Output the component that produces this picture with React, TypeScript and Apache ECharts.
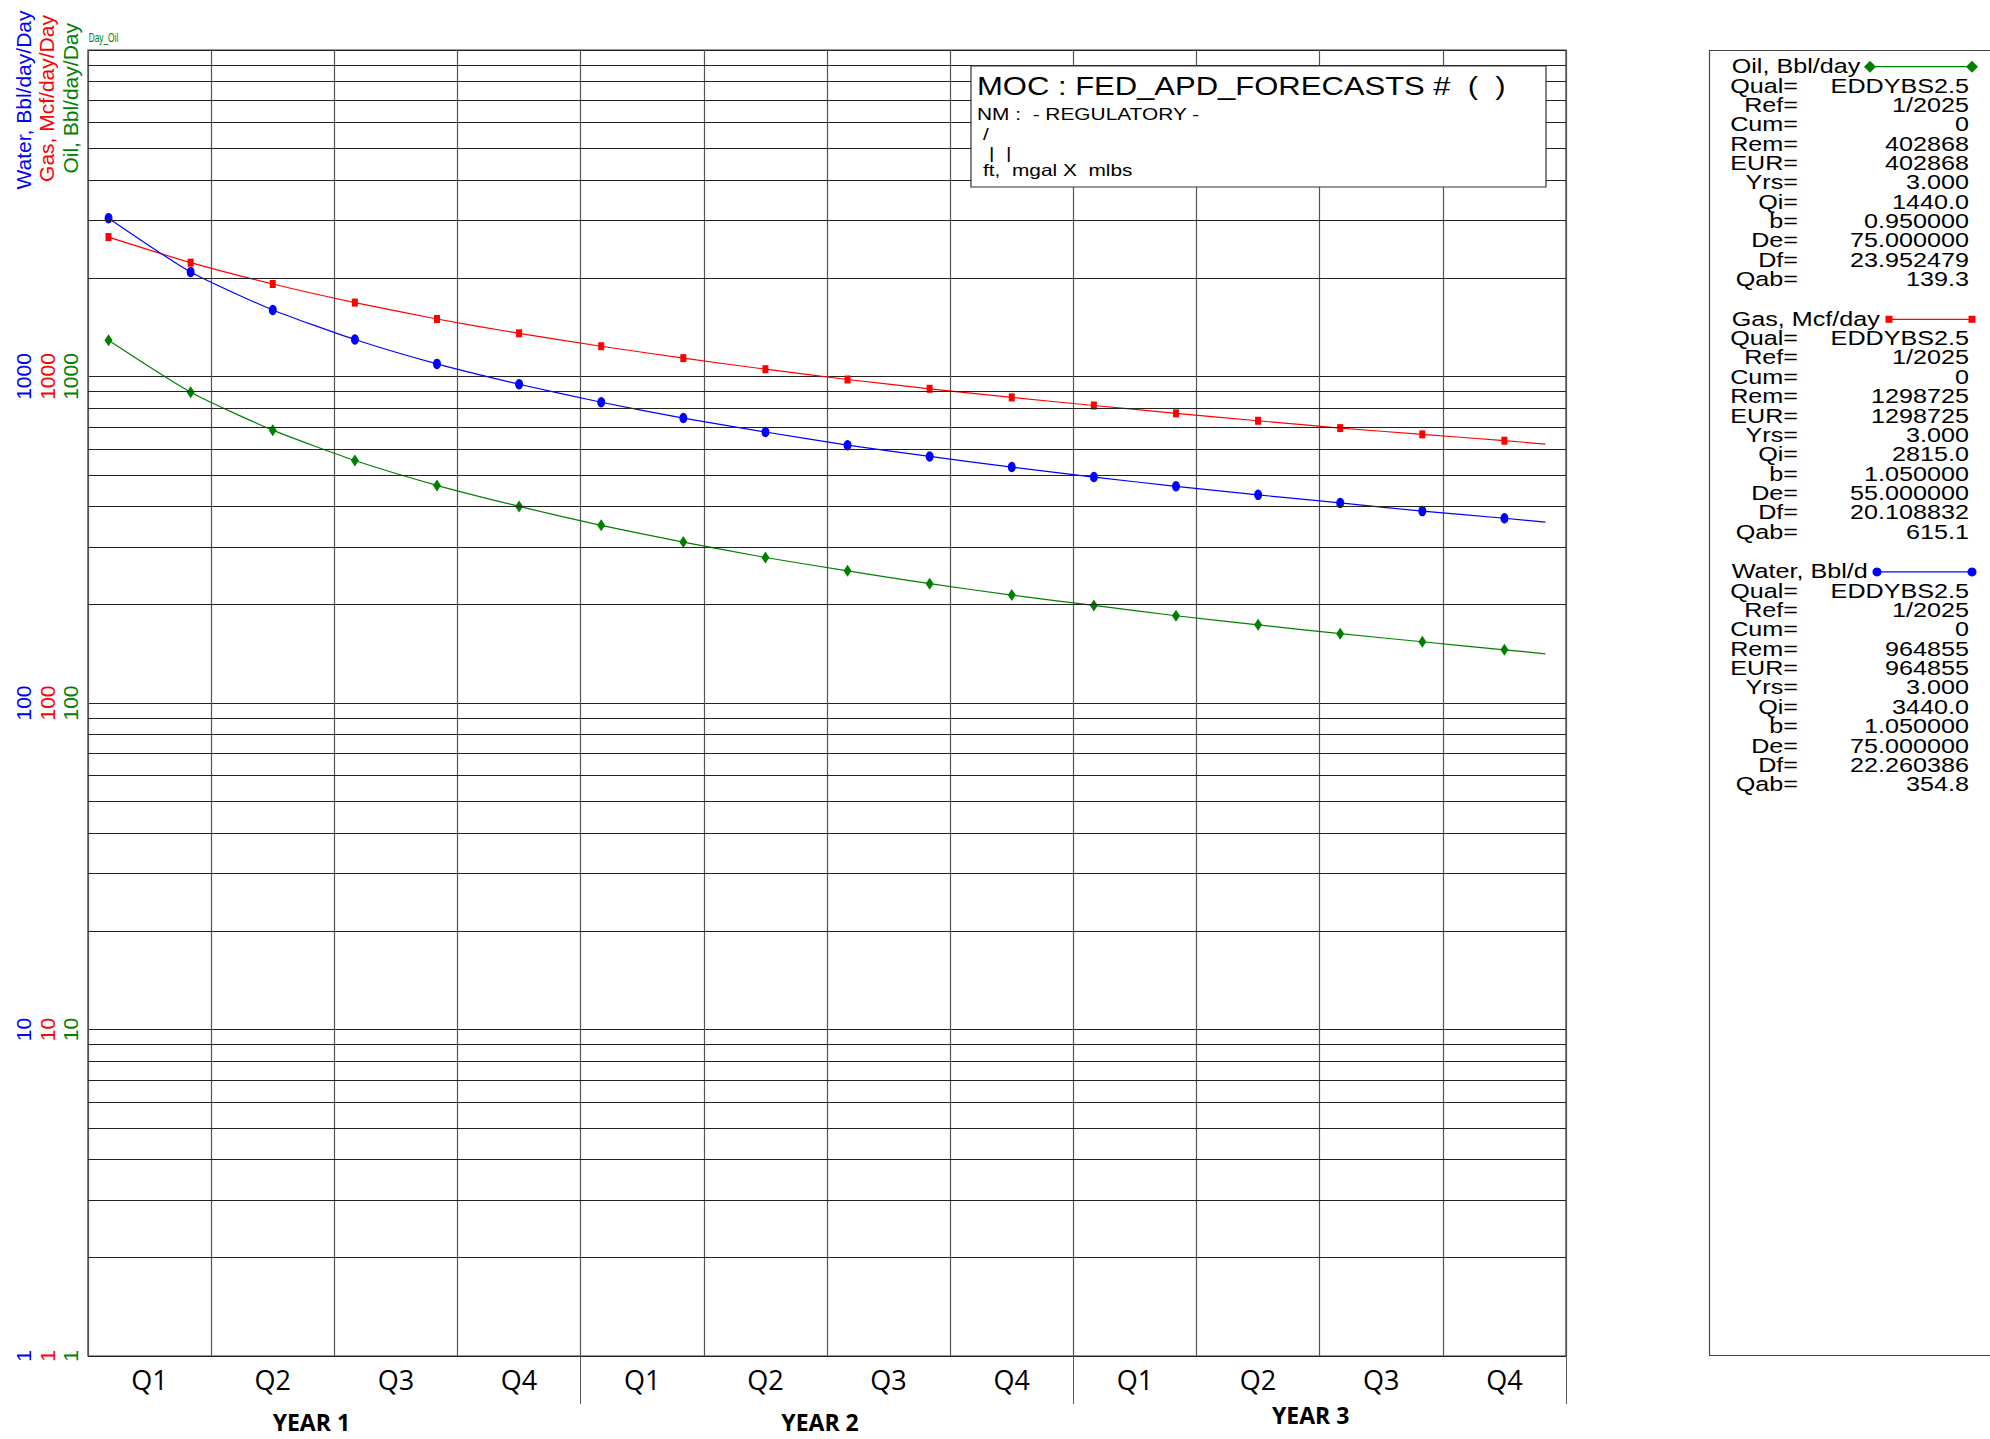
import React, { useEffect, useRef } from "react";
import * as echarts from "echarts";

// ---- data ----
const markerMonths = [0.5, 2.5, 4.5, 6.5, 8.5, 10.5, 12.5, 14.5, 16.5, 18.5, 20.5, 22.5, 24.5, 26.5, 28.5, 30.5, 32.5, 34.5];
const endMonth = 35.5;

const oilRates = [1291, 895, 685, 553, 464, 400, 350, 311, 279, 254, 232, 214, 199, 185, 173.5, 163, 154, 145.5];
const oilEnd = 141.5;
const gasRates = [2673, 2232, 1920, 1684, 1500, 1356, 1238, 1138, 1053, 979, 917, 863, 815, 771, 732, 695, 665, 636];
const gasEnd = 621;
const waterRates = [3055, 2089, 1599, 1298, 1093, 947, 834, 746, 676, 616, 569, 528, 492, 461, 434, 410, 387, 368];
const waterEnd = 358;

const quarterLabels = ["Q1", "Q2", "Q3", "Q4", "Q1", "Q2", "Q3", "Q4", "Q1", "Q2", "Q3", "Q4"];
const yearLabels = ["YEAR 1", "YEAR 2", "YEAR 3"];
const yearEndMonths = [12, 24, 36];
const minorGridValues = [
  2, 3, 4, 5, 6, 7, 8, 9,
  20, 30, 40, 50, 60, 70, 80, 90,
  200, 300, 400, 500, 600, 700, 800, 900,
  2000, 3000, 4000, 5000, 6000, 7000, 8000, 9000,
];

const axisTitles = ["Water, Bbl/day/Day", "Gas, Mcf/day/Day", "Oil, Bbl/day/Day"];
const axisColors = ["#0000ff", "#ff0000", "#008000"];

const statLabels = ["Qual=", "Ref=", "Cum=", "Rem=", "EUR=", "Yrs=", "Qi=", "b=", "De=", "Df=", "Qab="];
const oilStats = ["EDDYBS2.5", "1/2025", "0", "402868", "402868", "3.000", "1440.0", "0.950000", "75.000000", "23.952479", "139.3"];
const gasStats = ["EDDYBS2.5", "1/2025", "0", "1298725", "1298725", "3.000", "2815.0", "1.050000", "55.000000", "20.108832", "615.1"];
const waterStats = ["EDDYBS2.5", "1/2025", "0", "964855", "964855", "3.000", "3440.0", "1.050000", "75.000000", "22.260386", "354.8"];

const titleLines = ["MOC : FED_APD_FORECASTS #  (  )", "NM :  - REGULATORY -", "/", "|  |", "ft,  mgal X  mlbs"];
const cornerTag = "Day_Oil";

const FONT = '"Liberation Sans", Arial, Helvetica, sans-serif';
const QFONT = '"Open Sans", "Liberation Sans", sans-serif';

function txt(x: number, y: number, text: string, o: any = {}) {
  return {
    type: "text",
    x,
    y,
    z: 100,
    silent: true,
    scaleX: o.scaleX ?? 1,
    rotation: o.rotation ?? 0,
    style: {
      text,
      fill: o.fill ?? "#000",
      fontSize: o.size ?? 16,
      fontFamily: o.family ?? FONT,
      fontWeight: o.weight ?? "normal",
      align: o.align ?? "left",
      verticalAlign: "middle",
    },
  };
}

function mkData(rates: number[], end: number) {
  const pts: any[] = markerMonths.map((m, i) => [m, rates[i]]);
  pts.push({ value: [endMonth, end], symbol: "none" });
  return pts;
}

export default function App() {
  const ref = useRef<HTMLDivElement>(null);

  useEffect(() => {
    document.body.style.margin = "0";
    const chart = echarts.init(ref.current!, undefined, { renderer: "svg" });

    const graphics: any[] = [];

    // rotated y-axis titles
    const titleX = [23.3, 46.7, 70];
    const titleY = [100, 98.5, 98.3];
    axisTitles.forEach((t, i) => {
      graphics.push(txt(titleX[i], titleY[i], t, { size: 21, fill: axisColors[i], rotation: Math.PI / 2, align: "center" }));
    });
    graphics.push(txt(88.7, 37, cornerTag, { size: 13, fill: "#008000", scaleX: 0.64 }));

    // title box
    graphics.push({
      type: "rect",
      z: 99,
      silent: true,
      shape: { x: 971, y: 66, width: 575, height: 121 },
      style: { fill: "#fff", stroke: "#333", lineWidth: 1.2 },
    });
    graphics.push(txt(977, 85.7, titleLines[0], { size: 26.5, scaleX: 1.17 }));
    graphics.push(txt(977, 114, titleLines[1], { size: 16.3, scaleX: 1.28 }));
    graphics.push(txt(983, 134, titleLines[2], { size: 16.3, scaleX: 1.28 }));
    graphics.push(txt(989, 153, titleLines[3], { size: 16.3, scaleX: 1.28 }));
    graphics.push(txt(983, 170, titleLines[4], { size: 16.3, scaleX: 1.28 }));

    // right info panel
    graphics.push({
      type: "rect",
      z: 99,
      silent: true,
      shape: { x: 1709.5, y: 50.5, width: 400, height: 1305 },
      style: { fill: "#fff", stroke: "#444", lineWidth: 1.2 },
    });
    const blocks = [
      { name: "Oil, Bbl/day", color: "#008000", stats: oilStats, sym: "diamond", x1: 1870 },
      { name: "Gas, Mcf/day", color: "#ff0000", stats: gasStats, sym: "rect", x1: 1889 },
      { name: "Water, Bbl/d", color: "#0000ff", stats: waterStats, sym: "circle", x1: 1877 },
    ];
    blocks.forEach((b, bi) => {
      const y0 = 66.7 + bi * 252.6;
      graphics.push(txt(1731.7, y0, b.name, { size: 19.5, scaleX: 1.29 }));
      graphics.push({
        type: "line",
        z: 100,
        silent: true,
        shape: { x1: b.x1, y1: y0, x2: 1972, y2: y0 },
        style: { stroke: b.color, lineWidth: 1.3 },
      });
      [b.x1, 1972].forEach((sx) => {
        if (b.sym === "diamond") {
          graphics.push({
            type: "polygon",
            z: 101,
            silent: true,
            shape: { points: [[sx, y0 - 6], [sx + 6, y0], [sx, y0 + 6], [sx - 6, y0]] },
            style: { fill: b.color },
          });
        } else if (b.sym === "rect") {
          graphics.push({
            type: "rect",
            z: 101,
            silent: true,
            shape: { x: sx - 3.5, y: y0 - 3.5, width: 7, height: 7 },
            style: { fill: b.color },
          });
        } else {
          graphics.push({
            type: "circle",
            z: 101,
            silent: true,
            shape: { cx: sx, cy: y0, r: 4.5 },
            style: { fill: b.color },
          });
        }
      });
      statLabels.forEach((l, ri) => {
        const y = y0 + (ri + 1) * 19.35;
        graphics.push(txt(1798, y, l, { size: 19.5, scaleX: 1.29, align: "right" }));
        graphics.push(txt(1969, y, b.stats[ri], { size: 19.5, scaleX: 1.29, align: "right" }));
      });
    });

    const yOffsets = [46.7, 23.3, 0];
    const yAxes = axisColors.map((c, i) => ({
      type: "log",
      logBase: 10,
      min: 1,
      max: 10000,
      position: "left",
      offset: yOffsets[i],
      axisLine: { show: false },
      axisTick: { show: false },
      splitLine: { show: i === 0, lineStyle: { color: "#222", width: 1 } },
      axisLabel: {
        rotate: 90,
        margin: 7,
        color: c,
        fontSize: 21,
        fontFamily: FONT,
        formatter: (v: number) => (v >= 10000 ? "" : String(Math.round(v))),
      },
    }));

    const yearRich = (pad: number[]) => ({ fontSize: 23, fontWeight: "bold", fontFamily: QFONT, color: "#000", padding: pad });

    const option: any = {
      animation: false,
      backgroundColor: "#fff",
      grid: {
        left: 88,
        top: 50,
        width: 1478,
        height: 1306,
        show: true,
        borderColor: "#333",
        borderWidth: 1.2,
        backgroundColor: "transparent",
      },
      xAxis: [
        {
          type: "value",
          min: 0,
          max: 36,
          interval: 3,
          position: "bottom",
          axisLine: { show: false },
          axisLabel: { show: false },
          axisTick: { show: false },
          splitLine: { show: true, lineStyle: { color: "#555", width: 1.2 } },
        },
        {
          type: "category",
          data: quarterLabels,
          position: "bottom",
          boundaryGap: true,
          axisLine: { show: false },
          axisTick: { show: false },
          splitLine: { show: false },
          axisLabel: { interval: 0, margin: 10, fontSize: 27, fontFamily: QFONT, color: "#000" },
        },
        {
          type: "category",
          data: yearLabels,
          position: "bottom",
          boundaryGap: true,
          axisLine: { show: false },
          axisTick: { show: false },
          splitLine: { show: false },
          axisLabel: {
            interval: 0,
            margin: 66,
            verticalAlign: "middle",
            fontSize: 23,
            fontWeight: "bold",
            fontFamily: QFONT,
            color: "#000",
            formatter: (v: string, i: number) => `{y${i}|${v}}`,
            rich: {
              y0: yearRich([0, 46, 0, 0]),
              y1: yearRich([0, 14, 0, 0]),
              y2: yearRich([0, 18, 14, 0]),
            },
          },
        },
        {
          type: "value",
          min: 0,
          max: 36,
          position: "bottom",
          axisLine: { show: false },
          axisLabel: { show: false },
          splitLine: { show: false },
          axisTick: {
            show: true,
            customValues: yearEndMonths,
            length: 48,
            lineStyle: { color: "#555", width: 1 },
          },
        },
      ],
      yAxis: yAxes,
      graphic: { elements: graphics },
      series: [
        {
          type: "line",
          name: "grid",
          silent: true,
          xAxisIndex: 0,
          yAxisIndex: 0,
          data: [[0, 1], [36, 1]],
          showSymbol: false,
          lineStyle: { opacity: 0 },
          z: 1,
          markLine: {
            silent: true,
            symbol: ["none", "none"],
            label: { show: false },
            lineStyle: { color: "#222", width: 1, type: "solid" },
            data: minorGridValues.map((v) => ({ yAxis: v })),
          },
        },
        {
          type: "line",
          name: "Oil, Bbl/day",
          xAxisIndex: 0,
          yAxisIndex: 0,
          data: mkData(oilRates, oilEnd),
          smooth: 0.2,
          symbol: "diamond",
          symbolSize: [8, 12],
          showSymbol: true,
          showAllSymbol: true,
          lineStyle: { color: "#008000", width: 1.2 },
          itemStyle: { color: "#008000" },
          z: 3,
        },
        {
          type: "line",
          name: "Gas, Mcf/day",
          xAxisIndex: 0,
          yAxisIndex: 0,
          data: mkData(gasRates, gasEnd),
          smooth: 0.2,
          symbol: "rect",
          symbolSize: [6, 8],
          showSymbol: true,
          showAllSymbol: true,
          lineStyle: { color: "#ff0000", width: 1.2 },
          itemStyle: { color: "#ff0000" },
          z: 3,
        },
        {
          type: "line",
          name: "Water, Bbl/d",
          xAxisIndex: 0,
          yAxisIndex: 0,
          data: mkData(waterRates, waterEnd),
          smooth: 0.2,
          symbol: "circle",
          symbolSize: [8, 10.5],
          showSymbol: true,
          showAllSymbol: true,
          lineStyle: { color: "#0000ff", width: 1.2 },
          itemStyle: { color: "#0000ff" },
          z: 3,
        },
      ],
    };

    chart.setOption(option);
    return () => chart.dispose();
  }, []);

  return <div ref={ref} style={{ width: 1990, height: 1439, display: "block" }} />;
}
